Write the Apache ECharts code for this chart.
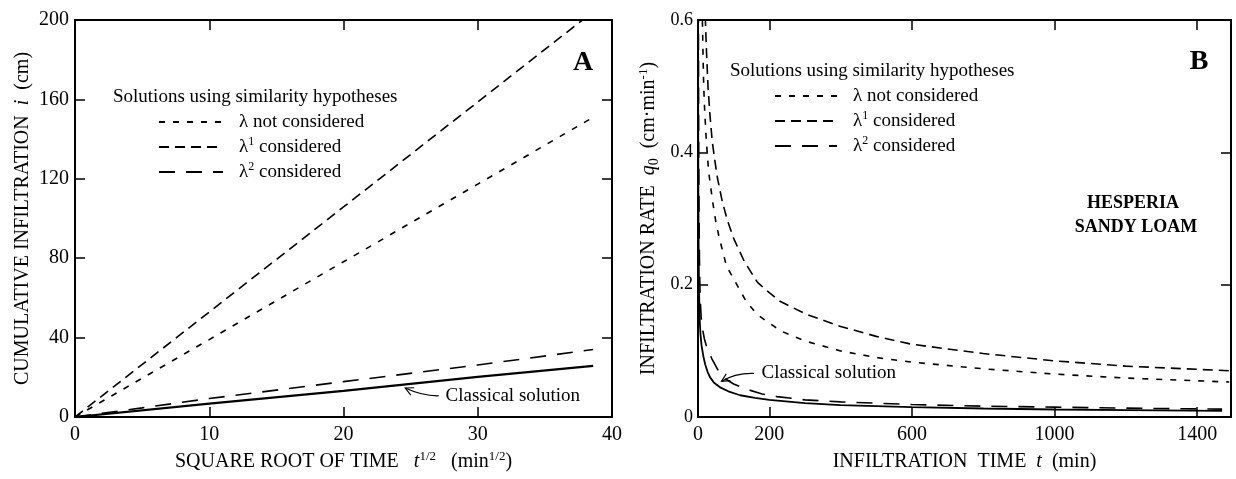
<!DOCTYPE html>
<html><head><meta charset="utf-8">
<script src="https://cdn.jsdelivr.net/npm/echarts@6/dist/echarts.min.js"></script>
<style>html,body{margin:0;padding:0;background:#fff}#c{width:1236px;height:479px}</style>
</head><body><div id="c"></div>
<script>
// ---------- DATA ----------
// Panel A: cumulative infiltration i (cm) vs square root of time t^1/2 (min^1/2)
const A_notConsidered = [[0,0],[10,39],[20,78.2],[30,117.3],[38.6,151]];
const A_lambda1       = [[0,0],[10,52.9],[20,105.8],[30,158.7],[37.8,200]];
const A_lambda2       = [[0,0],[5,4.6],[10,9.3],[20,17.8],[30,26.2],[38.6,34]];
const A_classical     = [[0,0],[10,6.7],[20,13.2],[30,20.2],[38.6,25.8]];
// Panel B: infiltration rate q0 (cm/min) vs infiltration time t (min)
const B_notConsidered = [[11,0.62],[12.5,0.595],[14,0.55],[16,0.5],[19,0.46],[23.5,0.416],[30,0.37],[41,0.326],[50,0.295],[60,0.27],[80,0.228],[109,0.2],[135,0.175],[166,0.155],[200,0.142],[233,0.13],[300,0.115],[400,0.1],[500,0.09],[600,0.083],[800,0.073],[1000,0.065],[1200,0.059],[1490,0.053]];
const B_lambda1       = [[19,0.63],[21,0.595],[24,0.55],[28,0.5],[33,0.46],[40,0.416],[48,0.385],[55,0.36],[68,0.326],[82,0.298],[100,0.27],[130,0.235],[167,0.2035],[200,0.188],[230,0.175],[305,0.155],[400,0.137],[500,0.122],[600,0.11],[800,0.096],[1000,0.085],[1200,0.077],[1490,0.07]];
const B_lambda2       = [[1,0.62],[2,0.4],[3,0.3],[4.5,0.22],[6,0.18],[9,0.15],[12,0.135],[18,0.118],[25,0.105],[39,0.088],[55,0.072],[70,0.06],[100,0.05],[137,0.042],[180,0.035],[221,0.031],[300,0.026],[400,0.023],[600,0.019],[800,0.0165],[1000,0.015],[1200,0.0135],[1470,0.012]];
const B_classical     = [[0.3,0.62],[0.6,0.43],[1,0.34],[2,0.24],[3,0.19],[5,0.145],[7,0.125],[10,0.108],[15,0.092],[20,0.08],[27,0.068],[34,0.06],[45,0.052],[62,0.045],[85,0.039],[118,0.033],[160,0.029],[200,0.026],[300,0.021],[400,0.018],[600,0.015],[800,0.013],[1000,0.0115],[1200,0.0105],[1470,0.0095]];
// Axis ticks / labels
const A_xTicks = [0, 10, 20, 30, 40];
const A_yTicks = [0, 40, 80, 120, 160, 200];
const B_xTickValues = [200, 600, 1000, 1400];
const B_xLabelValues = [0, 200, 600, 1000, 1400];
const B_yTicks = [0, 0.2, 0.4, 0.6];
// Annotation anchors (data coordinates)
const A_classicalNote = {text: [27.6, 10.7], from: [27.1, 10.7], ctrl: [25.9, 10.5], tip: [24.6, 14.6]};
const B_classicalNote = {text: [178, 0.066], from: [157, 0.066], ctrl: [105, 0.067], tip: [66, 0.054]};

// ---------- STYLE ----------
const FONT = 'Liberation Serif';
const BLACK = '#000';
const DASH_SHORT = [6, 8];
const DASH_MED = [10, 6];
const DASH_LONG = [16, 11];

const chart = echarts.init(document.getElementById('c'));

const tick = {show: true, inside: true, length: 10, lineStyle: {color: BLACK, width: 1.5}};
const axLine = {show: true, onZero: false, lineStyle: {color: BLACK, width: 2}};
const nameRich = {
  it: {fontStyle: 'italic', fontSize: 20, fontFamily: FONT, color: BLACK},
  sup: {fontSize: 13, lineHeight: 15, verticalAlign: 'top', fontFamily: FONT, color: BLACK},
  sub: {fontSize: 14, lineHeight: 14, verticalAlign: 'bottom', fontFamily: FONT, color: BLACK}
};
const nameStyle = {fontFamily: FONT, fontSize: 20, color: BLACK, lineHeight: 24, rich: nameRich};
const labelStyle = {fontFamily: FONT, fontSize: 20, color: BLACK};

const legendNames = {
  A0: '{g|λ} not considered', A1: '{g|λ}{sup|1} considered', A2: '{g|λ}{sup|2} considered',
  B0: '{g|λ} not considered', B1: '{g|λ}{sup|1} considered', B2: '{g|λ}{sup|2} considered'
};
const legendText = {
  fontFamily: FONT, fontSize: 19, color: BLACK, lineHeight: 22, padding: [0, 0, 0, 11],
  rich: {
    g: {fontFamily: FONT, fontSize: 19, color: BLACK, lineHeight: 22},
    sup: {fontFamily: FONT, fontSize: 12, color: BLACK, lineHeight: 14, verticalAlign: 'top'}
  }
};
function mkLegend(names, left, top, w) {
  return {data: names, left: left, top: top, orient: 'vertical', itemWidth: w, itemHeight: 14,
    itemGap: 3, selectedMode: false, padding: 0, formatter: n => legendNames[n], textStyle: legendText,
    itemStyle: {opacity: 0}};
}
function line(name, data, xi, yi, dash, width) {
  return {name: name, type: 'line', data: data, xAxisIndex: xi, yAxisIndex: yi, symbol: 'none',
    smooth: false, clip: true, silent: true, color: BLACK,
    itemStyle: {color: BLACK},
    lineStyle: {color: BLACK, width: width || 1.6, type: dash, cap: 'butt'}};
}

const option = {
  animation: false,
  backgroundColor: '#fff',
  color: [BLACK],
  title: [
    {text: 'Solutions using similarity hypotheses', left: 113, top: 88, padding: 0,
      textStyle: {fontFamily: FONT, fontSize: 19, fontWeight: 'normal', color: BLACK}},
    {text: 'Solutions using similarity hypotheses', left: 730, top: 62, padding: 0,
      textStyle: {fontFamily: FONT, fontSize: 19, fontWeight: 'normal', color: BLACK}}
  ],
  legend: [mkLegend(['A0','A1','A2'], 158, 111, 64), mkLegend(['B0','B1','B2'], 774, 85, 62)],
  grid: [
    {left: 75, top: 20, width: 537, height: 401},
    {left: 698, top: 20, width: 533, height: 401}
  ],
  xAxis: [
    {type: 'value', gridIndex: 0, position: 'bottom', min: A_xTicks[0], max: A_xTicks[A_xTicks.length-1], interval: 10,
      axisLine: axLine, axisTick: tick, splitLine: {show: false},
      axisLabel: {...labelStyle, margin: 8},
      name: 'SQUARE ROOT OF TIME   {it|t}{sup|1/2}   (min{sup|1/2})', nameLocation: 'middle', nameGap: 33, nameTextStyle: nameStyle},
    {type: 'value', gridIndex: 0, position: 'top', min: 0, max: 40, interval: 10,
      axisLine: axLine, axisTick: tick, splitLine: {show: false}, axisLabel: {show: false}},
    {type: 'value', gridIndex: 1, position: 'bottom', min: 0, max: 1495,
      axisLine: axLine, axisTick: {...tick, customValues: B_xTickValues}, splitLine: {show: false},
      axisLabel: {...labelStyle, margin: 8, customValues: B_xLabelValues, formatter: v => String(v)},
      name: 'INFILTRATION  TIME  {it|t}  (min)', nameLocation: 'middle', nameGap: 31, nameTextStyle: nameStyle},
    {type: 'value', gridIndex: 1, position: 'top', min: 0, max: 1495,
      axisLine: axLine, axisTick: {...tick, customValues: B_xTickValues}, splitLine: {show: false}, axisLabel: {show: false}}
  ],
  yAxis: [
    {type: 'value', gridIndex: 0, position: 'left', min: A_yTicks[0], max: A_yTicks[A_yTicks.length-1], interval: 40,
      axisLine: axLine, axisTick: tick, splitLine: {show: false},
      axisLabel: {...labelStyle, margin: 6},
      name: 'CUMULATIVE INFILTRATION  {it|i}  (cm)', nameLocation: 'middle', nameRotate: 90, nameGap: 36, nameTextStyle: nameStyle},
    {type: 'value', gridIndex: 0, position: 'right', min: 0, max: 200, interval: 40,
      axisLine: axLine, axisTick: tick, splitLine: {show: false}, axisLabel: {show: false}},
    {type: 'value', gridIndex: 1, position: 'left', min: B_yTicks[0], max: B_yTicks[B_yTicks.length-1], interval: 0.2,
      axisLine: axLine, axisTick: tick, splitLine: {show: false},
      axisLabel: {...labelStyle, fontSize: 18, margin: 5},
      name: 'INFILTRATION RATE  {it|q}{sub|0}  (cm·min{sup|-1})', nameLocation: 'middle', nameRotate: 90, nameGap: 37, nameTextStyle: nameStyle},
    {type: 'value', gridIndex: 1, position: 'right', min: 0, max: 0.6, interval: 0.2,
      axisLine: axLine, axisTick: tick, splitLine: {show: false}, axisLabel: {show: false}}
  ],
  series: [
    line('A0', A_notConsidered, 0, 0, DASH_SHORT),
    line('A1', A_lambda1, 0, 0, DASH_MED),
    line('A2', A_lambda2, 0, 0, DASH_LONG),
    line('Classical A', A_classical, 0, 0, 'solid', 2.2),
    line('B0', B_notConsidered, 2, 2, DASH_SHORT),
    line('B1', B_lambda1, 2, 2, DASH_MED),
    line('B2', B_lambda2, 2, 2, DASH_LONG),
    line('Classical B', B_classical, 2, 2, 'solid', 1.8)
  ]
};
chart.setOption(option);

function arrow(note, gridIndex) {
  const P = v => chart.convertToPixel({gridIndex: gridIndex}, v);
  const t = P(note.text), f = P(note.from), c = P(note.ctrl), p = P(note.tip);
  const dx = p[0] - c[0], dy = p[1] - c[1], L = Math.hypot(dx, dy) || 1;
  const ux = dx / L, uy = dy / L, s = 8, w = 4;
  const b1 = [p[0] - ux * s - uy * w, p[1] - uy * s + ux * w];
  const b2 = [p[0] - ux * s + uy * w, p[1] - uy * s - ux * w];
  return [
    {type: 'bezierCurve', shape: {x1: f[0], y1: f[1], cpx1: c[0], cpy1: c[1], x2: p[0], y2: p[1]},
      style: {stroke: BLACK, lineWidth: 1.2, fill: null}, silent: true},
    {type: 'polyline', shape: {points: [b1, p, b2]}, style: {stroke: BLACK, lineWidth: 1.2, fill: null}, silent: true},
    {type: 'text', x: t[0], y: t[1], style: {text: 'Classical solution', font: '19px ' + FONT, fill: BLACK,
      textVerticalAlign: 'middle', verticalAlign: 'middle'}, silent: true}
  ];
}
chart.setOption({graphic: {elements: [
  ...arrow(A_classicalNote, 0),
  ...arrow(B_classicalNote, 1),
  {type: 'text', x: 583, y: 63, style: {text: 'A', font: 'bold 28px ' + FONT, fill: BLACK, align: 'center', verticalAlign: 'middle'}},
  {type: 'text', x: 1199, y: 62, style: {text: 'B', font: 'bold 28px ' + FONT, fill: BLACK, align: 'center', verticalAlign: 'middle'}},
  {type: 'text', x: 1133, y: 203, style: {text: 'HESPERIA', font: 'bold 18px ' + FONT, fill: BLACK, align: 'center', verticalAlign: 'middle'}},
  {type: 'text', x: 1136, y: 227, style: {text: 'SANDY LOAM', font: 'bold 18px ' + FONT, fill: BLACK, align: 'center', verticalAlign: 'middle'}}
]}});
</script>
</body></html>
